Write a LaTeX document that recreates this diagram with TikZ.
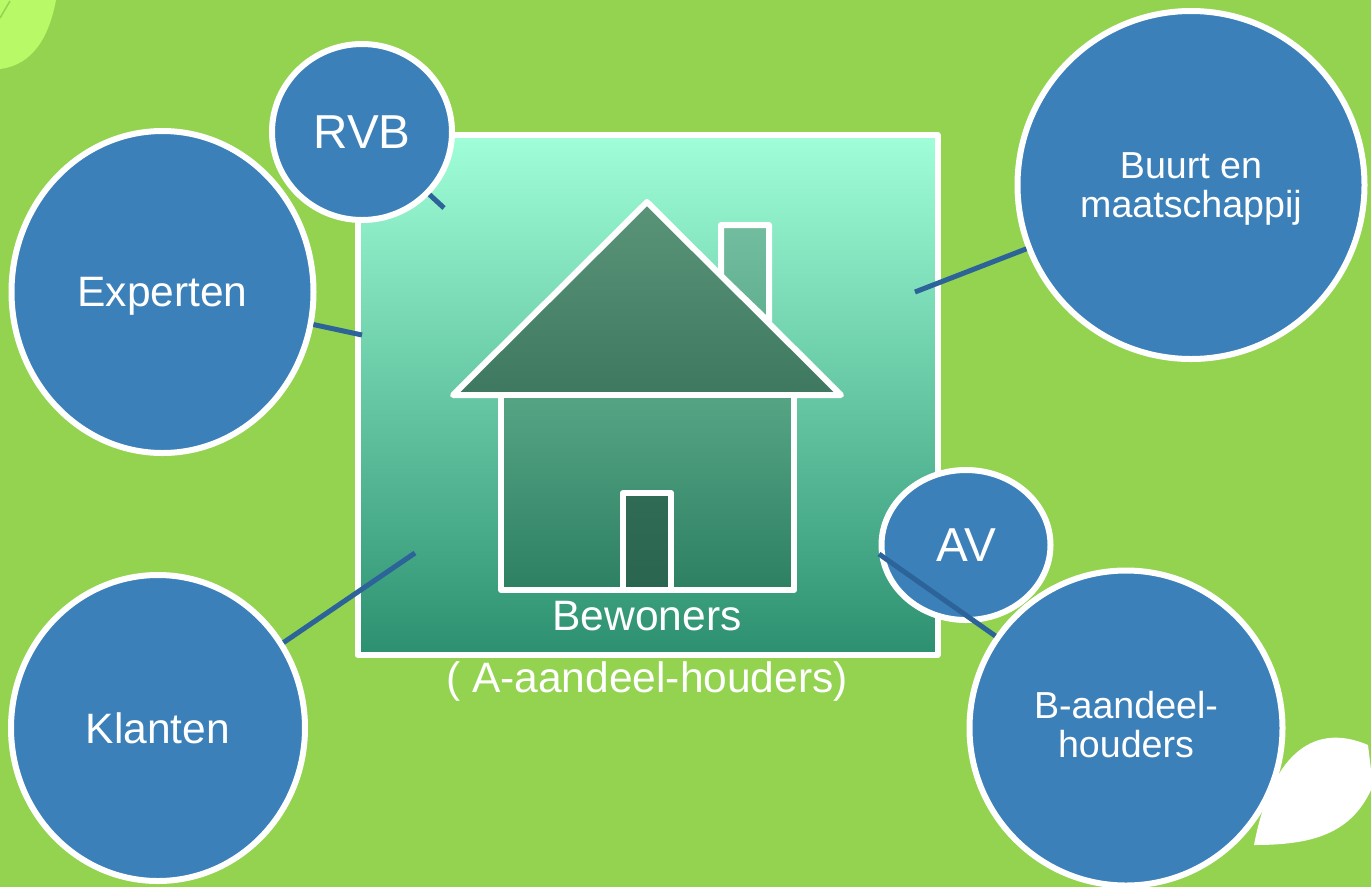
\documentclass[tikz,border=0pt]{standalone}
\usepackage{fontspec}
\setmainfont{Liberation Sans}
\usetikzlibrary{shapes.geometric, positioning, calc}

\definecolor{bggreen}{HTML}{93D350}
\definecolor{leafgreen}{HTML}{B8F968}
\definecolor{bubbleblue}{HTML}{3C80BA}
\definecolor{linkblue}{HTML}{2C6399}

\begin{document}
\begin{tikzpicture}[
    % Node styles
    bubble/.style={ellipse, draw=white, line width=1.2mm, fill=bubbleblue, text=white, inner sep=0pt, align=center},
    bigtext/.style={font=\fontsize{24.2}{25}\selectfont},
    midtext/.style={font=\fontsize{21.4}{22.4}\selectfont},
    smalltext/.style={font=\fontsize{27.1}{28}\selectfont},
    housepart/.style={draw=white, line width=1.2mm, line join=round},
    link/.style={draw=linkblue, line width=1mm}
]
\useasboundingbox (0,0) rectangle (27.42,-17.74);

% Background
\fill[bggreen] (0,0) rectangle (27.42,-17.74);

% Leaves
\fill[leafgreen] (0,0) -- (1.12,0) .. controls (0.98,-0.75) and (0.65,-1.3) .. (0,-1.38) -- cycle;
\draw[bggreen, line width=0.3mm] (0,-0.36) -- (0.2,-0.02);
\fill[white] (25.08,-16.9) .. controls (25.4,-15.2) and (26.2,-14.4) .. (27.36,-14.9) -- (27.42,-15.4) -- (27.42,-15.8) .. controls (27,-16.7) and (26.2,-16.9) .. (25.08,-16.9) -- cycle;

% Main square
\node[draw=white, line width=1.2mm, line join=round, minimum width=11.6cm, minimum height=10.4cm, inner sep=0pt, top color={rgb,255:red,160;green,255;blue,216}, bottom color={rgb,255:red,44;green,144;blue,112}] (plot) at (12.95,-7.9) {};

% House
\shadedraw[housepart, top color={rgb,255:red,114;green,189;blue,160}, bottom color={rgb,255:red,96;green,176;blue,144}] (14.42,-5.52) -- (14.42,-4.5) -- (15.38,-4.5) -- (15.38,-6.44) -- cycle;
\shadedraw[housepart, top color={rgb,255:red,90;green,148;blue,120}, bottom color={rgb,255:red,62;green,120;blue,96}] (12.94,-4.04) -- (9.06,-7.9) -- (16.82,-7.9) -- cycle;
\shadedraw[housepart, top color={rgb,255:red,85;green,165;blue,133}, bottom color={rgb,255:red,46;green,128;blue,99}] (10.02,-7.9) rectangle (15.88,-11.8);
\shadedraw[housepart, top color={rgb,255:red,47;green,107;blue,85}, bottom color={rgb,255:red,42;green,101;blue,80}] (12.46,-9.86) rectangle (13.42,-11.8);

% Resident label
\node[text=white, bigtext, align=center] (residents) at (12.94,-13.02) {Bewoners\\[10.2pt]( A-aandeel-houders)};

% Free ends of the links
\coordinate (rvbend) at (8.88,-4.16);
\coordinate (expertend) at (7.24,-6.7);
\coordinate (clientend) at (8.3,-11.06);
\coordinate (areaend) at (18.3,-5.84);
\coordinate (avend) at (17.58,-11.08);

% Bubbles
\node[bubble, smalltext, minimum width=3.6cm, minimum height=3.52cm] (rvb) at (7.24,-2.64) {RVB};
\node[bubble, bigtext, text depth=0pt, minimum width=6.04cm, minimum height=6.44cm] (experts) at (3.25,-5.84) {Experten};
\node[bubble, bigtext, minimum width=5.88cm, minimum height=6.12cm] (clients) at (3.16,-14.56) {Klanten};
\node[bubble, midtext, text depth=0pt, minimum width=6.94cm, minimum height=6.96cm] (area) at (23.82,-3.7) {Buurt en\\maatschappij};
\node[bubble, smalltext, minimum width=3.38cm, minimum height=3cm] (av) at (19.32,-10.9) {AV};
\node[bubble, midtext, text depth=4pt, minimum width=6.26cm, minimum height=6.3cm] (bshares) at (22.52,-14.56) {B-aandeel-\\houders};

% Links
\draw[link] (rvb) -- (rvbend);
\draw[link] (experts) -- (expertend);
\draw[link] (clients) -- (clientend);
\draw[link] (area) -- (areaend);
\draw[link] (bshares) -- (avend);

\end{tikzpicture}
\end{document}
